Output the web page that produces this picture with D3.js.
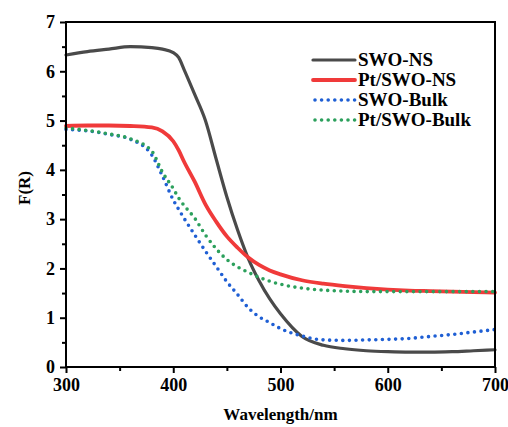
<!DOCTYPE html>
<html>
<head>
<meta charset="utf-8">
<script src="https://cdn.jsdelivr.net/npm/d3@7"></script>
<style>
  body { margin: 0; background: #fff; }
  svg text { font-family: "Liberation Serif", "Times New Roman", serif; font-weight: bold; }
</style>
</head>
<body>
<div id="chart"></div>
<script>
// Data
const wavelength = [300, 320, 340, 360, 380, 390, 400, 405, 410, 420, 430, 440, 450, 460, 470,
                    480, 490, 500, 520, 540, 560, 580, 600, 620, 640, 660, 680, 700];
const swoNS =     [6.33, 6.40, 6.45, 6.50, 6.48, 6.45, 6.38, 6.28, 6.04, 5.53, 5.00, 4.22, 3.45, 2.78, 2.20,
                   1.75, 1.38, 1.08, 0.62, 0.44, 0.37, 0.33, 0.31, 0.30, 0.30, 0.31, 0.33, 0.35];
const ptSwoNS =   [4.89, 4.90, 4.90, 4.89, 4.86, 4.78, 4.58, 4.40, 4.17, 3.76, 3.30, 2.95, 2.65, 2.42, 2.22,
                   2.07, 1.96, 1.88, 1.76, 1.69, 1.64, 1.60, 1.57, 1.55, 1.54, 1.53, 1.52, 1.51];
const swoBulk =   [4.82, 4.79, 4.72, 4.62, 4.30, 3.87, 3.39, 3.20, 3.02, 2.68, 2.35, 2.04, 1.73, 1.47, 1.20,
                   1.02, 0.90, 0.78, 0.63, 0.55, 0.54, 0.55, 0.56, 0.58, 0.62, 0.66, 0.71, 0.76];
const ptSwoBulk = [4.85, 4.80, 4.73, 4.63, 4.38, 3.95, 3.62, 3.43, 3.28, 3.02, 2.68, 2.40, 2.18, 2.03, 1.92,
                   1.82, 1.74, 1.68, 1.60, 1.56, 1.54, 1.53, 1.53, 1.53, 1.53, 1.53, 1.53, 1.53];
const seriesNames = ['SWO-NS', 'Pt/SWO-NS', 'SWO-Bulk', 'Pt/SWO-Bulk'];
const xTicks = [300, 400, 500, 600, 700];
const yTicks = [0, 1, 2, 3, 4, 5, 6, 7];

const width = 508, height = 427;
const margin = {top: 22, right: 13, bottom: 60, left: 66};
const innerWidth = width - margin.left - margin.right;
const innerHeight = height - margin.top - margin.bottom;

const series = [
  {name: seriesNames[0], values: swoNS, color: '#4a4a4a', width: 3.2, dash: null},
  {name: seriesNames[1], values: ptSwoNS, color: '#f03a3a', width: 3.8, dash: null},
  {name: seriesNames[2], values: swoBulk, color: '#1f5fd4', width: 3.6, dash: '0 6.6'},
  {name: seriesNames[3], values: ptSwoBulk, color: '#2ca05c', width: 3.6, dash: '0 6.6'}
];

const svg = d3.select('#chart')
  .append('svg')
  .attr('width', width)
  .attr('height', height);

const g = svg.append('g')
  .attr('transform', `translate(${margin.left}, ${margin.top})`);

const x = d3.scaleLinear().domain([300, 700]).range([0, innerWidth]);
const y = d3.scaleLinear().domain([0, 7]).range([innerHeight, 0]);

// Lines
const line = d3.line()
  .x((d, i) => x(wavelength[i]))
  .y(d => y(d))
  .curve(d3.curveMonotoneX);

series.forEach(s => {
  g.append('path')
    .datum(s.values)
    .attr('fill', 'none')
    .attr('stroke', s.color)
    .attr('stroke-width', s.width)
    .attr('stroke-linecap', 'round')
    .attr('stroke-linejoin', 'round')
    .attr('stroke-dasharray', s.dash)
    .attr('d', line);
});

// Frame
g.append('rect')
  .attr('width', innerWidth)
  .attr('height', innerHeight)
  .attr('fill', 'none')
  .attr('stroke', '#000')
  .attr('stroke-width', 2);

// Minor ticks
g.append('g')
  .attr('transform', `translate(0, ${innerHeight})`)
  .call(d3.axisBottom(x).tickValues([350, 450, 550, 650]).tickSize(4).tickFormat(''))
  .call(a => a.select('.domain').remove())
  .selectAll('line').attr('stroke-width', 2);

g.append('g')
  .call(d3.axisLeft(y).tickValues([0.5, 1.5, 2.5, 3.5, 4.5, 5.5, 6.5]).tickSize(4).tickFormat(''))
  .call(a => a.select('.domain').remove())
  .selectAll('line').attr('stroke-width', 2);

// Major axes
const xAxis = g.append('g')
  .attr('transform', `translate(0, ${innerHeight})`)
  .call(d3.axisBottom(x).tickValues(xTicks).tickSize(6).tickPadding(5).tickFormat(d3.format('d')));
xAxis.select('.domain').remove();
xAxis.selectAll('line').attr('stroke-width', 2);
xAxis.selectAll('text')
  .style('font-size', '18px')
  .attr('fill', '#000');

const yAxis = g.append('g')
  .call(d3.axisLeft(y).tickValues(yTicks).tickSize(6).tickPadding(5).tickFormat(d3.format('d')));
yAxis.select('.domain').remove();
yAxis.selectAll('line').attr('stroke-width', 2);
yAxis.selectAll('text')
  .style('font-size', '18px')
  .attr('fill', '#000');

// Axis titles
svg.append('text')
  .attr('x', margin.left + innerWidth / 2)
  .attr('y', 420)
  .attr('text-anchor', 'middle')
  .style('font-size', '17px')
  .text('Wavelength/nm');

svg.append('text')
  .attr('transform', 'translate(30, 188) rotate(-90)')
  .attr('text-anchor', 'middle')
  .style('font-size', '17px')
  .text('F(R)');

// Legend
const legend = svg.append('g');
series.forEach((s, i) => {
  const ly = 60 + i * 20;
  legend.append('line')
    .attr('x1', s.dash ? 315 : 313)
    .attr('x2', 355)
    .attr('y1', ly)
    .attr('y2', ly)
    .attr('stroke', s.color)
    .attr('stroke-width', s.width)
    .attr('stroke-linecap', 'round')
    .attr('stroke-dasharray', s.dash);
  legend.append('text')
    .attr('x', 358)
    .attr('y', ly + 6)
    .style('font-size', '19px')
    .text(s.name);
});
</script>
</body>
</html>
